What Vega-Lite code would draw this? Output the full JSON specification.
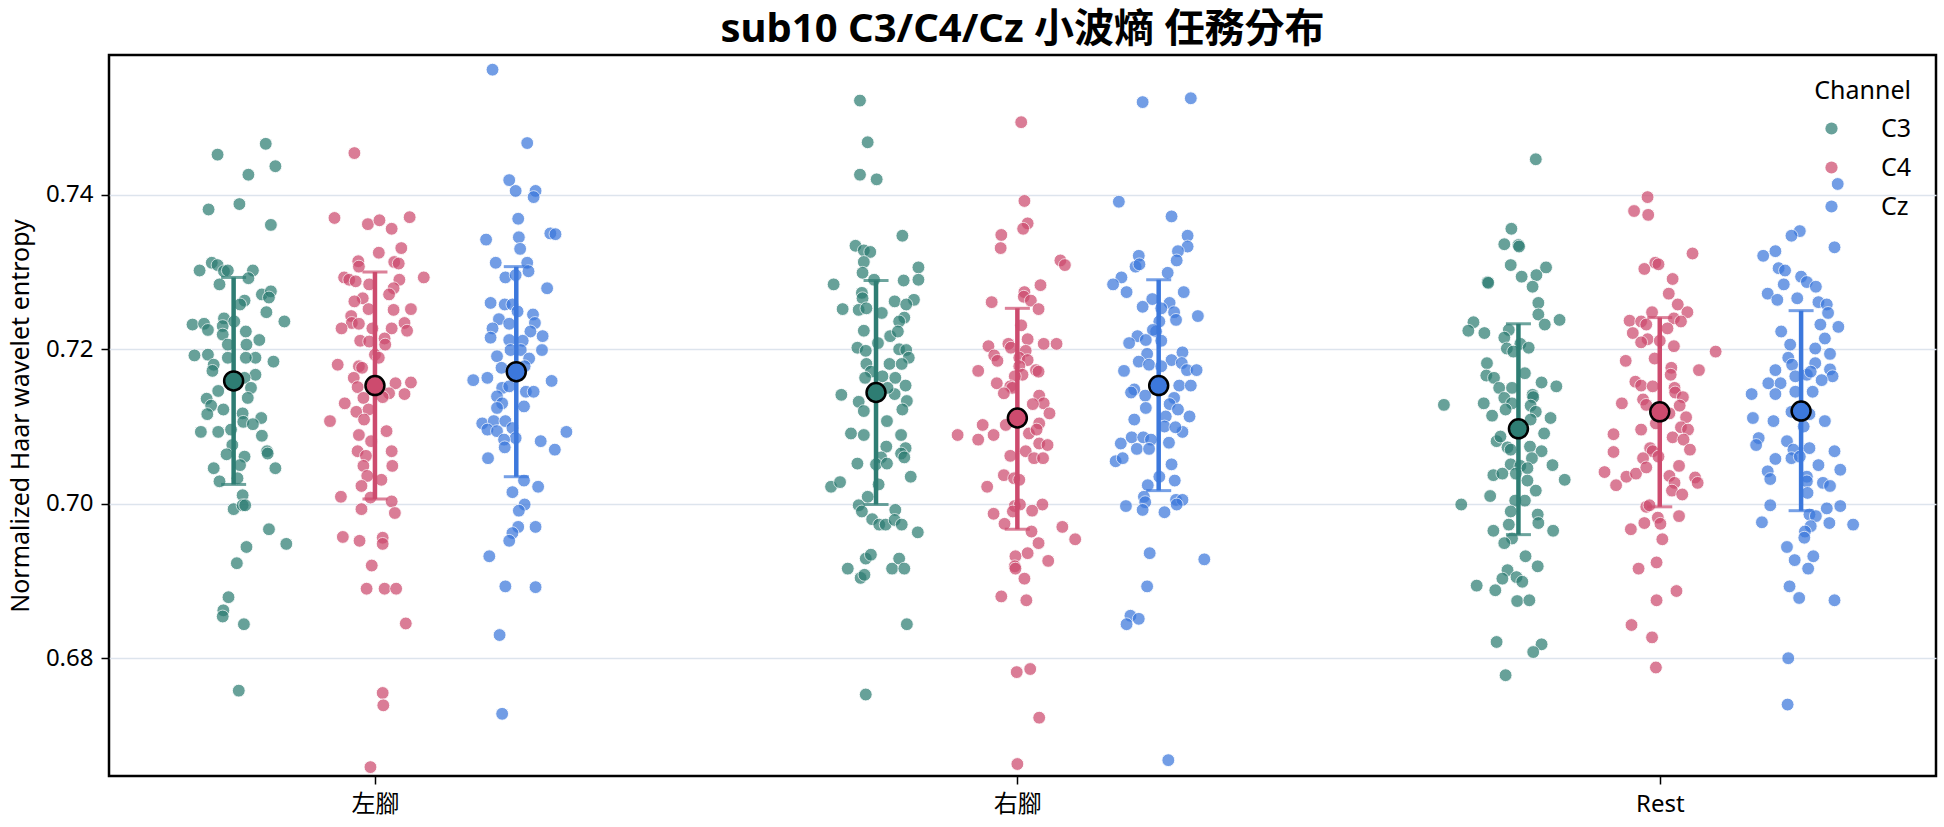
{
  "$schema": "https://vega.github.io/schema/vega-lite/v6.json",
  "width": 1827,
  "height": 721,
  "autosize": {"type": "none"},
  "padding": {"left": 109, "top": 55, "right": 8, "bottom": 51},
  "background": "white",
  "config": {
    "font": "Noto Sans, Noto Sans CJK TC, sans-serif",
    "view": {"stroke": "black", "strokeWidth": 2.5},
    "axis": {"labelColor": "black", "titleColor": "black", "tickColor": "black", "tickWidth": 1.5, "tickSize": 8, "labelFontSize": 24, "domain": false},
    "legend": {"titleFontSize": 25, "titleFontWeight": "normal", "titleColor": "black", "labelFontSize": 25, "labelColor": "black", "symbolSize": 150, "symbolType": "circle", "symbolOpacity": 0.72, "symbolStrokeWidth": 0, "rowPadding": 13, "labelOffset": 37, "titlePadding": 12, "symbolOffset": 16, "titleAnchor": "end"}
  },
  "title": {"text": "sub10 C3/C4/Cz 小波熵 任務分布", "fontSize": 40, "fontWeight": "bold", "anchor": "middle", "offset": 5, "color": "black", "font": "Noto Sans, Noto Sans CJK TC, sans-serif"},
  "datasets": {
    "summary": [
      {"t": "左腳", "c": "C3", "mean": 0.7159, "lo": 0.7025, "hi": 0.7293},
      {"t": "左腳", "c": "C4", "mean": 0.7153, "lo": 0.7006, "hi": 0.7300},
      {"t": "左腳", "c": "Cz", "mean": 0.7171, "lo": 0.7035, "hi": 0.7307},
      {"t": "右腳", "c": "C3", "mean": 0.7144, "lo": 0.6999, "hi": 0.7289},
      {"t": "右腳", "c": "C4", "mean": 0.7111, "lo": 0.6967, "hi": 0.7253},
      {"t": "右腳", "c": "Cz", "mean": 0.7153, "lo": 0.7017, "hi": 0.7290},
      {"t": "Rest", "c": "C3", "mean": 0.7097, "lo": 0.6960, "hi": 0.7233},
      {"t": "Rest", "c": "C4", "mean": 0.7119, "lo": 0.6996, "hi": 0.7241},
      {"t": "Rest", "c": "Cz", "mean": 0.7120, "lo": 0.6991, "hi": 0.7250}
    ],
    "pts": [
      {"t":"左腳","c":"C3","j":-0.025,"v":0.7452},{"t":"左腳","c":"C3","j":0.050,"v":0.7466},{"t":"左腳","c":"C3","j":0.065,"v":0.7437},{"t":"左腳","c":"C3","j":0.023,"v":0.7426},{"t":"左腳","c":"C3","j":-0.039,"v":0.7381},{"t":"左腳","c":"C3","j":0.009,"v":0.7388},{"t":"左腳","c":"C3","j":0.058,"v":0.7361},{"t":"左腳","c":"C3","j":-0.034,"v":0.7312},{"t":"左腳","c":"C3","j":-0.053,"v":0.7302},{"t":"左腳","c":"C3","j":-0.025,"v":0.7309},{"t":"左腳","c":"C3","j":-0.015,"v":0.7301},{"t":"左腳","c":"C3","j":-0.009,"v":0.7302},{"t":"左腳","c":"C3","j":0.030,"v":0.7302},{"t":"左腳","c":"C3","j":0.023,"v":0.7292},{"t":"左腳","c":"C3","j":-0.022,"v":0.7284},{"t":"左腳","c":"C3","j":0.044,"v":0.7271},{"t":"左腳","c":"C3","j":0.058,"v":0.7275},{"t":"左腳","c":"C3","j":0.055,"v":0.7267},{"t":"左腳","c":"C3","j":0.017,"v":0.7263},{"t":"左腳","c":"C3","j":0.010,"v":0.7258},{"t":"左腳","c":"C3","j":0.051,"v":0.7248},{"t":"左腳","c":"C3","j":0.079,"v":0.7236},{"t":"左腳","c":"C3","j":-0.064,"v":0.7232},{"t":"左腳","c":"C3","j":-0.046,"v":0.7233},{"t":"左腳","c":"C3","j":-0.040,"v":0.7225},{"t":"左腳","c":"C3","j":-0.015,"v":0.7240},{"t":"左腳","c":"C3","j":-0.017,"v":0.7230},{"t":"左腳","c":"C3","j":0.001,"v":0.7236},{"t":"左腳","c":"C3","j":0.019,"v":0.7223},{"t":"左腳","c":"C3","j":-0.017,"v":0.7219},{"t":"左腳","c":"C3","j":0.040,"v":0.7212},{"t":"左腳","c":"C3","j":0.020,"v":0.7206},{"t":"左腳","c":"C3","j":-0.009,"v":0.7206},{"t":"左腳","c":"C3","j":-0.061,"v":0.7192},{"t":"左腳","c":"C3","j":-0.040,"v":0.7193},{"t":"左腳","c":"C3","j":0.034,"v":0.7189},{"t":"左腳","c":"C3","j":0.019,"v":0.7189},{"t":"左腳","c":"C3","j":0.062,"v":0.7184},{"t":"左腳","c":"C3","j":-0.009,"v":0.7189},{"t":"左腳","c":"C3","j":-0.031,"v":0.7180},{"t":"左腳","c":"C3","j":-0.033,"v":0.7172},{"t":"左腳","c":"C3","j":0.034,"v":0.7167},{"t":"左腳","c":"C3","j":0.017,"v":0.7163},{"t":"左腳","c":"C3","j":0.027,"v":0.7150},{"t":"左腳","c":"C3","j":-0.024,"v":0.7146},{"t":"左腳","c":"C3","j":-0.042,"v":0.7136},{"t":"左腳","c":"C3","j":-0.035,"v":0.7127},{"t":"左腳","c":"C3","j":-0.016,"v":0.7122},{"t":"左腳","c":"C3","j":-0.041,"v":0.7116},{"t":"左腳","c":"C3","j":0.014,"v":0.7117},{"t":"左腳","c":"C3","j":0.022,"v":0.7137},{"t":"左腳","c":"C3","j":0.043,"v":0.7111},{"t":"左腳","c":"C3","j":0.015,"v":0.7106},{"t":"左腳","c":"C3","j":0.030,"v":0.7103},{"t":"左腳","c":"C3","j":-0.051,"v":0.7093},{"t":"左腳","c":"C3","j":-0.024,"v":0.7093},{"t":"左腳","c":"C3","j":-0.004,"v":0.7096},{"t":"左腳","c":"C3","j":0.044,"v":0.7088},{"t":"左腳","c":"C3","j":-0.002,"v":0.7076},{"t":"左腳","c":"C3","j":-0.011,"v":0.7064},{"t":"左腳","c":"C3","j":0.017,"v":0.7061},{"t":"左腳","c":"C3","j":0.052,"v":0.7068},{"t":"左腳","c":"C3","j":0.053,"v":0.7065},{"t":"左腳","c":"C3","j":-0.031,"v":0.7046},{"t":"左腳","c":"C3","j":0.010,"v":0.7050},{"t":"左腳","c":"C3","j":0.065,"v":0.7046},{"t":"左腳","c":"C3","j":-0.022,"v":0.7029},{"t":"左腳","c":"C3","j":0.006,"v":0.7033},{"t":"左腳","c":"C3","j":0.014,"v":0.7011},{"t":"左腳","c":"C3","j":0.000,"v":0.6993},{"t":"左腳","c":"C3","j":0.014,"v":0.6998},{"t":"左腳","c":"C3","j":0.018,"v":0.6998},{"t":"左腳","c":"C3","j":0.055,"v":0.6967},{"t":"左腳","c":"C3","j":0.020,"v":0.6944},{"t":"左腳","c":"C3","j":0.082,"v":0.6948},{"t":"左腳","c":"C3","j":0.005,"v":0.6923},{"t":"左腳","c":"C3","j":-0.008,"v":0.6879},{"t":"左腳","c":"C3","j":-0.016,"v":0.6862},{"t":"左腳","c":"C3","j":-0.017,"v":0.6854},{"t":"左腳","c":"C3","j":0.016,"v":0.6844},{"t":"左腳","c":"C3","j":0.008,"v":0.6758},
      {"t":"左腳","c":"C4","j":-0.032,"v":0.7454},{"t":"左腳","c":"C4","j":-0.063,"v":0.7370},{"t":"左腳","c":"C4","j":-0.011,"v":0.7362},{"t":"左腳","c":"C4","j":0.007,"v":0.7367},{"t":"左腳","c":"C4","j":0.026,"v":0.7356},{"t":"左腳","c":"C4","j":0.054,"v":0.7371},{"t":"左腳","c":"C4","j":0.041,"v":0.7331},{"t":"左腳","c":"C4","j":0.006,"v":0.7325},{"t":"左腳","c":"C4","j":-0.026,"v":0.7314},{"t":"左腳","c":"C4","j":-0.025,"v":0.7307},{"t":"左腳","c":"C4","j":0.030,"v":0.7313},{"t":"左腳","c":"C4","j":0.037,"v":0.7311},{"t":"左腳","c":"C4","j":-0.048,"v":0.7293},{"t":"左腳","c":"C4","j":-0.040,"v":0.7290},{"t":"左腳","c":"C4","j":-0.030,"v":0.7288},{"t":"左腳","c":"C4","j":-0.009,"v":0.7284},{"t":"左腳","c":"C4","j":0.038,"v":0.7290},{"t":"左腳","c":"C4","j":0.029,"v":0.7279},{"t":"左腳","c":"C4","j":0.076,"v":0.7293},{"t":"左腳","c":"C4","j":0.022,"v":0.7271},{"t":"左腳","c":"C4","j":-0.019,"v":0.7266},{"t":"左腳","c":"C4","j":-0.032,"v":0.7262},{"t":"左腳","c":"C4","j":-0.010,"v":0.7252},{"t":"左腳","c":"C4","j":0.029,"v":0.7251},{"t":"左腳","c":"C4","j":0.056,"v":0.7252},{"t":"左腳","c":"C4","j":-0.037,"v":0.7243},{"t":"左腳","c":"C4","j":-0.036,"v":0.7234},{"t":"左腳","c":"C4","j":-0.025,"v":0.7233},{"t":"左腳","c":"C4","j":-0.052,"v":0.7227},{"t":"左腳","c":"C4","j":-0.004,"v":0.7227},{"t":"左腳","c":"C4","j":0.026,"v":0.7227},{"t":"左腳","c":"C4","j":0.046,"v":0.7234},{"t":"左腳","c":"C4","j":0.050,"v":0.7224},{"t":"左腳","c":"C4","j":-0.023,"v":0.7211},{"t":"左腳","c":"C4","j":0.015,"v":0.7214},{"t":"左腳","c":"C4","j":-0.009,"v":0.7210},{"t":"左腳","c":"C4","j":0.016,"v":0.7206},{"t":"左腳","c":"C4","j":0.000,"v":0.7193},{"t":"左腳","c":"C4","j":0.006,"v":0.7189},{"t":"左腳","c":"C4","j":-0.058,"v":0.7180},{"t":"左腳","c":"C4","j":-0.025,"v":0.7178},{"t":"左腳","c":"C4","j":-0.020,"v":0.7176},{"t":"左腳","c":"C4","j":-0.033,"v":0.7163},{"t":"左腳","c":"C4","j":-0.027,"v":0.7151},{"t":"左腳","c":"C4","j":0.032,"v":0.7156},{"t":"左腳","c":"C4","j":0.056,"v":0.7157},{"t":"左腳","c":"C4","j":0.022,"v":0.7143},{"t":"左腳","c":"C4","j":0.046,"v":0.7142},{"t":"左腳","c":"C4","j":-0.018,"v":0.7137},{"t":"左腳","c":"C4","j":-0.047,"v":0.7130},{"t":"左腳","c":"C4","j":0.012,"v":0.7138},{"t":"左腳","c":"C4","j":-0.029,"v":0.7119},{"t":"左腳","c":"C4","j":-0.010,"v":0.7122},{"t":"左腳","c":"C4","j":-0.070,"v":0.7107},{"t":"左腳","c":"C4","j":-0.017,"v":0.7109},{"t":"左腳","c":"C4","j":0.018,"v":0.7094},{"t":"左腳","c":"C4","j":-0.025,"v":0.7089},{"t":"左腳","c":"C4","j":-0.006,"v":0.7081},{"t":"左腳","c":"C4","j":-0.027,"v":0.7068},{"t":"左腳","c":"C4","j":-0.014,"v":0.7062},{"t":"左腳","c":"C4","j":0.026,"v":0.7068},{"t":"左腳","c":"C4","j":0.027,"v":0.7049},{"t":"左腳","c":"C4","j":-0.018,"v":0.7049},{"t":"左腳","c":"C4","j":-0.012,"v":0.7036},{"t":"左腳","c":"C4","j":0.010,"v":0.7031},{"t":"左腳","c":"C4","j":-0.021,"v":0.7023},{"t":"左腳","c":"C4","j":-0.053,"v":0.7009},{"t":"左腳","c":"C4","j":-0.007,"v":0.7008},{"t":"左腳","c":"C4","j":0.026,"v":0.7003},{"t":"左腳","c":"C4","j":-0.021,"v":0.6993},{"t":"左腳","c":"C4","j":0.031,"v":0.6988},{"t":"左腳","c":"C4","j":-0.050,"v":0.6957},{"t":"左腳","c":"C4","j":-0.024,"v":0.6952},{"t":"左腳","c":"C4","j":0.012,"v":0.6956},{"t":"左腳","c":"C4","j":0.012,"v":0.6948},{"t":"左腳","c":"C4","j":-0.005,"v":0.6920},{"t":"左腳","c":"C4","j":-0.013,"v":0.6890},{"t":"左腳","c":"C4","j":0.015,"v":0.6890},{"t":"左腳","c":"C4","j":0.033,"v":0.6890},{"t":"左腳","c":"C4","j":0.048,"v":0.6845},{"t":"左腳","c":"C4","j":0.012,"v":0.6755},{"t":"左腳","c":"C4","j":0.013,"v":0.6739},{"t":"左腳","c":"C4","j":-0.007,"v":0.6659},
      {"t":"左腳","c":"Cz","j":-0.037,"v":0.7562},{"t":"左腳","c":"Cz","j":0.017,"v":0.7467},{"t":"左腳","c":"Cz","j":-0.011,"v":0.7419},{"t":"左腳","c":"Cz","j":-0.001,"v":0.7405},{"t":"左腳","c":"Cz","j":0.030,"v":0.7405},{"t":"左腳","c":"Cz","j":0.027,"v":0.7397},{"t":"左腳","c":"Cz","j":0.003,"v":0.7369},{"t":"左腳","c":"Cz","j":-0.047,"v":0.7342},{"t":"左腳","c":"Cz","j":0.004,"v":0.7345},{"t":"左腳","c":"Cz","j":0.006,"v":0.7330},{"t":"左腳","c":"Cz","j":0.053,"v":0.7350},{"t":"左腳","c":"Cz","j":0.061,"v":0.7349},{"t":"左腳","c":"Cz","j":-0.032,"v":0.7312},{"t":"左腳","c":"Cz","j":0.017,"v":0.7312},{"t":"左腳","c":"Cz","j":0.019,"v":0.7301},{"t":"左腳","c":"Cz","j":-0.017,"v":0.7293},{"t":"左腳","c":"Cz","j":-0.001,"v":0.7296},{"t":"左腳","c":"Cz","j":0.048,"v":0.7279},{"t":"左腳","c":"Cz","j":-0.040,"v":0.7260},{"t":"左腳","c":"Cz","j":-0.018,"v":0.7258},{"t":"左腳","c":"Cz","j":-0.006,"v":0.7258},{"t":"左腳","c":"Cz","j":0.002,"v":0.7249},{"t":"左腳","c":"Cz","j":0.026,"v":0.7245},{"t":"左腳","c":"Cz","j":-0.027,"v":0.7239},{"t":"左腳","c":"Cz","j":0.029,"v":0.7234},{"t":"左腳","c":"Cz","j":-0.037,"v":0.7227},{"t":"左腳","c":"Cz","j":-0.011,"v":0.7233},{"t":"左腳","c":"Cz","j":0.022,"v":0.7223},{"t":"左腳","c":"Cz","j":0.041,"v":0.7217},{"t":"左腳","c":"Cz","j":-0.040,"v":0.7215},{"t":"左腳","c":"Cz","j":-0.011,"v":0.7212},{"t":"左腳","c":"Cz","j":0.010,"v":0.7211},{"t":"左腳","c":"Cz","j":-0.009,"v":0.7199},{"t":"左腳","c":"Cz","j":0.007,"v":0.7199},{"t":"左腳","c":"Cz","j":0.040,"v":0.7199},{"t":"左腳","c":"Cz","j":-0.030,"v":0.7191},{"t":"左腳","c":"Cz","j":0.020,"v":0.7188},{"t":"左腳","c":"Cz","j":-0.023,"v":0.7176},{"t":"左腳","c":"Cz","j":-0.006,"v":0.7173},{"t":"左腳","c":"Cz","j":0.013,"v":0.7178},{"t":"左腳","c":"Cz","j":-0.067,"v":0.7160},{"t":"左腳","c":"Cz","j":-0.045,"v":0.7163},{"t":"左腳","c":"Cz","j":0.055,"v":0.7159},{"t":"左腳","c":"Cz","j":-0.022,"v":0.7150},{"t":"左腳","c":"Cz","j":-0.011,"v":0.7152},{"t":"左腳","c":"Cz","j":0.015,"v":0.7145},{"t":"左腳","c":"Cz","j":0.027,"v":0.7145},{"t":"左腳","c":"Cz","j":-0.030,"v":0.7139},{"t":"左腳","c":"Cz","j":0.012,"v":0.7126},{"t":"左腳","c":"Cz","j":-0.022,"v":0.7130},{"t":"左腳","c":"Cz","j":-0.030,"v":0.7124},{"t":"左腳","c":"Cz","j":-0.053,"v":0.7104},{"t":"左腳","c":"Cz","j":-0.035,"v":0.7107},{"t":"左腳","c":"Cz","j":-0.017,"v":0.7107},{"t":"左腳","c":"Cz","j":-0.045,"v":0.7096},{"t":"左腳","c":"Cz","j":-0.030,"v":0.7094},{"t":"左腳","c":"Cz","j":-0.006,"v":0.7098},{"t":"左腳","c":"Cz","j":-0.001,"v":0.7085},{"t":"左腳","c":"Cz","j":-0.019,"v":0.7083},{"t":"左腳","c":"Cz","j":-0.018,"v":0.7073},{"t":"左腳","c":"Cz","j":0.038,"v":0.7081},{"t":"左腳","c":"Cz","j":0.060,"v":0.7070},{"t":"左腳","c":"Cz","j":0.078,"v":0.7093},{"t":"左腳","c":"Cz","j":-0.044,"v":0.7059},{"t":"左腳","c":"Cz","j":0.012,"v":0.7030},{"t":"左腳","c":"Cz","j":0.034,"v":0.7022},{"t":"左腳","c":"Cz","j":-0.006,"v":0.7015},{"t":"左腳","c":"Cz","j":0.013,"v":0.6999},{"t":"左腳","c":"Cz","j":0.004,"v":0.6991},{"t":"左腳","c":"Cz","j":0.003,"v":0.6970},{"t":"左腳","c":"Cz","j":0.030,"v":0.6970},{"t":"左腳","c":"Cz","j":-0.006,"v":0.6962},{"t":"左腳","c":"Cz","j":-0.011,"v":0.6952},{"t":"左腳","c":"Cz","j":-0.042,"v":0.6932},{"t":"左腳","c":"Cz","j":-0.017,"v":0.6893},{"t":"左腳","c":"Cz","j":0.030,"v":0.6892},{"t":"左腳","c":"Cz","j":-0.026,"v":0.6830},{"t":"左腳","c":"Cz","j":-0.022,"v":0.6728},
      {"t":"右腳","c":"C3","j":-0.025,"v":0.7522},{"t":"右腳","c":"C3","j":-0.013,"v":0.7468},{"t":"右腳","c":"C3","j":-0.025,"v":0.7426},{"t":"右腳","c":"C3","j":0.001,"v":0.7420},{"t":"右腳","c":"C3","j":0.041,"v":0.7347},{"t":"右腳","c":"C3","j":-0.032,"v":0.7334},{"t":"右腳","c":"C3","j":-0.019,"v":0.7328},{"t":"右腳","c":"C3","j":-0.009,"v":0.7326},{"t":"右腳","c":"C3","j":-0.019,"v":0.7313},{"t":"右腳","c":"C3","j":0.066,"v":0.7306},{"t":"右腳","c":"C3","j":-0.021,"v":0.7299},{"t":"右腳","c":"C3","j":-0.066,"v":0.7284},{"t":"右腳","c":"C3","j":-0.003,"v":0.7290},{"t":"右腳","c":"C3","j":0.043,"v":0.7289},{"t":"右腳","c":"C3","j":0.066,"v":0.7290},{"t":"右腳","c":"C3","j":-0.022,"v":0.7273},{"t":"右腳","c":"C3","j":-0.021,"v":0.7266},{"t":"右腳","c":"C3","j":0.059,"v":0.7264},{"t":"右腳","c":"C3","j":0.029,"v":0.7262},{"t":"右腳","c":"C3","j":-0.052,"v":0.7252},{"t":"右腳","c":"C3","j":-0.027,"v":0.7251},{"t":"右腳","c":"C3","j":-0.015,"v":0.7253},{"t":"右腳","c":"C3","j":0.009,"v":0.7247},{"t":"右腳","c":"C3","j":0.047,"v":0.7258},{"t":"右腳","c":"C3","j":0.044,"v":0.7241},{"t":"右腳","c":"C3","j":0.036,"v":0.7236},{"t":"右腳","c":"C3","j":-0.019,"v":0.7224},{"t":"右腳","c":"C3","j":0.022,"v":0.7217},{"t":"右腳","c":"C3","j":0.034,"v":0.7223},{"t":"右腳","c":"C3","j":-0.029,"v":0.7202},{"t":"右腳","c":"C3","j":-0.016,"v":0.7198},{"t":"右腳","c":"C3","j":0.003,"v":0.7208},{"t":"右腳","c":"C3","j":0.036,"v":0.7200},{"t":"右腳","c":"C3","j":0.047,"v":0.7199},{"t":"右腳","c":"C3","j":0.051,"v":0.7189},{"t":"右腳","c":"C3","j":-0.015,"v":0.7181},{"t":"右腳","c":"C3","j":0.021,"v":0.7181},{"t":"右腳","c":"C3","j":0.040,"v":0.7181},{"t":"右腳","c":"C3","j":-0.008,"v":0.7171},{"t":"右腳","c":"C3","j":-0.017,"v":0.7163},{"t":"右腳","c":"C3","j":0.010,"v":0.7165},{"t":"右腳","c":"C3","j":0.030,"v":0.7163},{"t":"右腳","c":"C3","j":0.046,"v":0.7153},{"t":"右腳","c":"C3","j":-0.054,"v":0.7141},{"t":"右腳","c":"C3","j":-0.027,"v":0.7132},{"t":"右腳","c":"C3","j":0.029,"v":0.7142},{"t":"右腳","c":"C3","j":0.018,"v":0.7150},{"t":"右腳","c":"C3","j":0.048,"v":0.7133},{"t":"右腳","c":"C3","j":-0.019,"v":0.7120},{"t":"右腳","c":"C3","j":0.041,"v":0.7122},{"t":"右腳","c":"C3","j":0.017,"v":0.7107},{"t":"右腳","c":"C3","j":-0.039,"v":0.7091},{"t":"右腳","c":"C3","j":-0.019,"v":0.7089},{"t":"右腳","c":"C3","j":0.039,"v":0.7089},{"t":"右腳","c":"C3","j":0.016,"v":0.7074},{"t":"右腳","c":"C3","j":0.046,"v":0.7072},{"t":"右腳","c":"C3","j":0.039,"v":0.7065},{"t":"右腳","c":"C3","j":0.008,"v":0.7060},{"t":"右腳","c":"C3","j":0.044,"v":0.7060},{"t":"右腳","c":"C3","j":-0.029,"v":0.7052},{"t":"右腳","c":"C3","j":0.000,"v":0.7051},{"t":"右腳","c":"C3","j":0.017,"v":0.7052},{"t":"右腳","c":"C3","j":0.054,"v":0.7035},{"t":"右腳","c":"C3","j":-0.070,"v":0.7022},{"t":"右腳","c":"C3","j":-0.056,"v":0.7028},{"t":"右腳","c":"C3","j":0.004,"v":0.7025},{"t":"右腳","c":"C3","j":-0.013,"v":0.7009},{"t":"右腳","c":"C3","j":-0.027,"v":0.6998},{"t":"右腳","c":"C3","j":-0.022,"v":0.6990},{"t":"右腳","c":"C3","j":-0.006,"v":0.6980},{"t":"右腳","c":"C3","j":0.005,"v":0.6973},{"t":"右腳","c":"C3","j":0.015,"v":0.6973},{"t":"右腳","c":"C3","j":0.030,"v":0.6992},{"t":"右腳","c":"C3","j":0.029,"v":0.6979},{"t":"右腳","c":"C3","j":0.040,"v":0.6973},{"t":"右腳","c":"C3","j":0.065,"v":0.6963},{"t":"右腳","c":"C3","j":-0.016,"v":0.6929},{"t":"右腳","c":"C3","j":-0.008,"v":0.6934},{"t":"右腳","c":"C3","j":-0.044,"v":0.6916},{"t":"右腳","c":"C3","j":-0.024,"v":0.6904},{"t":"右腳","c":"C3","j":-0.018,"v":0.6908},{"t":"右腳","c":"C3","j":0.025,"v":0.6916},{"t":"右腳","c":"C3","j":0.036,"v":0.6929},{"t":"右腳","c":"C3","j":0.044,"v":0.6916},{"t":"右腳","c":"C3","j":0.048,"v":0.6844},{"t":"右腳","c":"C3","j":-0.016,"v":0.6753},
      {"t":"右腳","c":"C4","j":0.006,"v":0.7494},{"t":"右腳","c":"C4","j":0.011,"v":0.7392},{"t":"右腳","c":"C4","j":0.016,"v":0.7363},{"t":"右腳","c":"C4","j":0.009,"v":0.7356},{"t":"右腳","c":"C4","j":-0.025,"v":0.7348},{"t":"右腳","c":"C4","j":-0.026,"v":0.7331},{"t":"右腳","c":"C4","j":0.067,"v":0.7315},{"t":"右腳","c":"C4","j":0.074,"v":0.7309},{"t":"右腳","c":"C4","j":0.036,"v":0.7283},{"t":"右腳","c":"C4","j":0.011,"v":0.7274},{"t":"右腳","c":"C4","j":0.010,"v":0.7268},{"t":"右腳","c":"C4","j":0.021,"v":0.7263},{"t":"右腳","c":"C4","j":-0.040,"v":0.7261},{"t":"右腳","c":"C4","j":0.033,"v":0.7252},{"t":"右腳","c":"C4","j":0.006,"v":0.7231},{"t":"右腳","c":"C4","j":0.016,"v":0.7213},{"t":"右腳","c":"C4","j":-0.045,"v":0.7204},{"t":"右腳","c":"C4","j":-0.014,"v":0.7207},{"t":"右腳","c":"C4","j":-0.010,"v":0.7202},{"t":"右腳","c":"C4","j":0.041,"v":0.7207},{"t":"右腳","c":"C4","j":0.061,"v":0.7207},{"t":"右腳","c":"C4","j":0.013,"v":0.7198},{"t":"右腳","c":"C4","j":-0.036,"v":0.7192},{"t":"右腳","c":"C4","j":-0.031,"v":0.7185},{"t":"右腳","c":"C4","j":0.003,"v":0.7189},{"t":"右腳","c":"C4","j":0.016,"v":0.7186},{"t":"右腳","c":"C4","j":-0.061,"v":0.7172},{"t":"右腳","c":"C4","j":0.003,"v":0.7178},{"t":"右腳","c":"C4","j":0.029,"v":0.7173},{"t":"右腳","c":"C4","j":0.033,"v":0.7171},{"t":"右腳","c":"C4","j":0.008,"v":0.7167},{"t":"右腳","c":"C4","j":-0.004,"v":0.7165},{"t":"右腳","c":"C4","j":-0.032,"v":0.7156},{"t":"右腳","c":"C4","j":-0.011,"v":0.7152},{"t":"右腳","c":"C4","j":-0.008,"v":0.7150},{"t":"右腳","c":"C4","j":-0.021,"v":0.7143},{"t":"右腳","c":"C4","j":0.034,"v":0.7140},{"t":"右腳","c":"C4","j":0.041,"v":0.7130},{"t":"右腳","c":"C4","j":0.024,"v":0.7129},{"t":"右腳","c":"C4","j":0.050,"v":0.7117},{"t":"右腳","c":"C4","j":-0.054,"v":0.7102},{"t":"右腳","c":"C4","j":-0.018,"v":0.7102},{"t":"右腳","c":"C4","j":0.034,"v":0.7104},{"t":"右腳","c":"C4","j":-0.093,"v":0.7089},{"t":"右腳","c":"C4","j":-0.061,"v":0.7083},{"t":"右腳","c":"C4","j":-0.037,"v":0.7089},{"t":"右腳","c":"C4","j":0.018,"v":0.7091},{"t":"右腳","c":"C4","j":0.030,"v":0.7096},{"t":"右腳","c":"C4","j":0.034,"v":0.7078},{"t":"右腳","c":"C4","j":0.047,"v":0.7076},{"t":"右腳","c":"C4","j":0.013,"v":0.7068},{"t":"右腳","c":"C4","j":0.026,"v":0.7059},{"t":"右腳","c":"C4","j":0.040,"v":0.7059},{"t":"右腳","c":"C4","j":-0.011,"v":0.7062},{"t":"右腳","c":"C4","j":-0.021,"v":0.7037},{"t":"右腳","c":"C4","j":-0.005,"v":0.7033},{"t":"右腳","c":"C4","j":0.003,"v":0.7031},{"t":"右腳","c":"C4","j":-0.047,"v":0.7022},{"t":"右腳","c":"C4","j":-0.004,"v":0.6997},{"t":"右腳","c":"C4","j":0.004,"v":0.6999},{"t":"右腳","c":"C4","j":0.039,"v":0.6999},{"t":"右腳","c":"C4","j":0.023,"v":0.6991},{"t":"右腳","c":"C4","j":-0.007,"v":0.6990},{"t":"右腳","c":"C4","j":-0.037,"v":0.6987},{"t":"右腳","c":"C4","j":-0.020,"v":0.6974},{"t":"右腳","c":"C4","j":0.022,"v":0.6964},{"t":"右腳","c":"C4","j":0.070,"v":0.6970},{"t":"右腳","c":"C4","j":0.090,"v":0.6954},{"t":"右腳","c":"C4","j":0.033,"v":0.6949},{"t":"右腳","c":"C4","j":0.016,"v":0.6936},{"t":"右腳","c":"C4","j":-0.003,"v":0.6932},{"t":"右腳","c":"C4","j":-0.004,"v":0.6919},{"t":"右腳","c":"C4","j":-0.003,"v":0.6916},{"t":"右腳","c":"C4","j":0.048,"v":0.6926},{"t":"右腳","c":"C4","j":0.011,"v":0.6903},{"t":"右腳","c":"C4","j":-0.025,"v":0.6880},{"t":"右腳","c":"C4","j":0.014,"v":0.6875},{"t":"右腳","c":"C4","j":-0.001,"v":0.6782},{"t":"右腳","c":"C4","j":0.020,"v":0.6786},{"t":"右腳","c":"C4","j":0.034,"v":0.6723},{"t":"右腳","c":"C4","j":0.000,"v":0.6663},
      {"t":"右腳","c":"Cz","j":-0.025,"v":0.7520},{"t":"右腳","c":"Cz","j":0.050,"v":0.7525},{"t":"右腳","c":"Cz","j":-0.062,"v":0.7391},{"t":"右腳","c":"Cz","j":0.020,"v":0.7372},{"t":"右腳","c":"Cz","j":0.045,"v":0.7347},{"t":"右腳","c":"Cz","j":0.045,"v":0.7333},{"t":"右腳","c":"Cz","j":0.030,"v":0.7327},{"t":"右腳","c":"Cz","j":0.028,"v":0.7315},{"t":"右腳","c":"Cz","j":-0.031,"v":0.7321},{"t":"右腳","c":"Cz","j":-0.036,"v":0.7307},{"t":"右腳","c":"Cz","j":-0.030,"v":0.7310},{"t":"右腳","c":"Cz","j":0.014,"v":0.7299},{"t":"右腳","c":"Cz","j":-0.058,"v":0.7293},{"t":"右腳","c":"Cz","j":-0.071,"v":0.7284},{"t":"右腳","c":"Cz","j":-0.050,"v":0.7274},{"t":"右腳","c":"Cz","j":0.039,"v":0.7274},{"t":"右腳","c":"Cz","j":-0.010,"v":0.7265},{"t":"右腳","c":"Cz","j":-0.025,"v":0.7255},{"t":"右腳","c":"Cz","j":0.017,"v":0.7260},{"t":"右腳","c":"Cz","j":0.004,"v":0.7253},{"t":"右腳","c":"Cz","j":0.024,"v":0.7248},{"t":"右腳","c":"Cz","j":0.027,"v":0.7238},{"t":"右腳","c":"Cz","j":0.061,"v":0.7243},{"t":"右腳","c":"Cz","j":0.001,"v":0.7236},{"t":"右腳","c":"Cz","j":-0.004,"v":0.7223},{"t":"右腳","c":"Cz","j":-0.009,"v":0.7225},{"t":"右腳","c":"Cz","j":-0.033,"v":0.7217},{"t":"右腳","c":"Cz","j":-0.046,"v":0.7208},{"t":"右腳","c":"Cz","j":-0.020,"v":0.7212},{"t":"右腳","c":"Cz","j":0.004,"v":0.7211},{"t":"右腳","c":"Cz","j":0.037,"v":0.7196},{"t":"右腳","c":"Cz","j":-0.018,"v":0.7194},{"t":"右腳","c":"Cz","j":0.020,"v":0.7186},{"t":"右腳","c":"Cz","j":-0.031,"v":0.7184},{"t":"右腳","c":"Cz","j":-0.015,"v":0.7180},{"t":"右腳","c":"Cz","j":0.004,"v":0.7178},{"t":"右腳","c":"Cz","j":0.036,"v":0.7182},{"t":"右腳","c":"Cz","j":-0.054,"v":0.7172},{"t":"右腳","c":"Cz","j":0.044,"v":0.7173},{"t":"右腳","c":"Cz","j":0.059,"v":0.7173},{"t":"右腳","c":"Cz","j":-0.038,"v":0.7148},{"t":"右腳","c":"Cz","j":0.032,"v":0.7153},{"t":"右腳","c":"Cz","j":0.050,"v":0.7153},{"t":"右腳","c":"Cz","j":-0.043,"v":0.7144},{"t":"右腳","c":"Cz","j":-0.021,"v":0.7140},{"t":"右腳","c":"Cz","j":0.024,"v":0.7137},{"t":"右腳","c":"Cz","j":0.017,"v":0.7129},{"t":"右腳","c":"Cz","j":-0.020,"v":0.7124},{"t":"右腳","c":"Cz","j":0.030,"v":0.7122},{"t":"右腳","c":"Cz","j":-0.038,"v":0.7109},{"t":"右腳","c":"Cz","j":0.048,"v":0.7113},{"t":"右腳","c":"Cz","j":0.011,"v":0.7113},{"t":"右腳","c":"Cz","j":0.037,"v":0.7093},{"t":"右腳","c":"Cz","j":0.009,"v":0.7100},{"t":"右腳","c":"Cz","j":0.026,"v":0.7099},{"t":"右腳","c":"Cz","j":-0.059,"v":0.7078},{"t":"右腳","c":"Cz","j":-0.042,"v":0.7086},{"t":"右腳","c":"Cz","j":-0.024,"v":0.7086},{"t":"右腳","c":"Cz","j":-0.012,"v":0.7083},{"t":"右腳","c":"Cz","j":-0.034,"v":0.7071},{"t":"右腳","c":"Cz","j":-0.015,"v":0.7071},{"t":"右腳","c":"Cz","j":0.016,"v":0.7079},{"t":"右腳","c":"Cz","j":-0.067,"v":0.7055},{"t":"右腳","c":"Cz","j":-0.056,"v":0.7059},{"t":"右腳","c":"Cz","j":0.020,"v":0.7051},{"t":"右腳","c":"Cz","j":0.001,"v":0.7035},{"t":"右腳","c":"Cz","j":0.025,"v":0.7030},{"t":"右腳","c":"Cz","j":-0.017,"v":0.7024},{"t":"右腳","c":"Cz","j":-0.023,"v":0.7009},{"t":"右腳","c":"Cz","j":-0.021,"v":0.7002},{"t":"右腳","c":"Cz","j":-0.051,"v":0.6997},{"t":"右腳","c":"Cz","j":-0.025,"v":0.6992},{"t":"右腳","c":"Cz","j":0.009,"v":0.6989},{"t":"右腳","c":"Cz","j":0.027,"v":0.7005},{"t":"右腳","c":"Cz","j":0.037,"v":0.7005},{"t":"右腳","c":"Cz","j":0.028,"v":0.6999},{"t":"右腳","c":"Cz","j":-0.014,"v":0.6936},{"t":"右腳","c":"Cz","j":0.071,"v":0.6928},{"t":"右腳","c":"Cz","j":-0.018,"v":0.6893},{"t":"右腳","c":"Cz","j":-0.044,"v":0.6855},{"t":"右腳","c":"Cz","j":-0.050,"v":0.6844},{"t":"右腳","c":"Cz","j":-0.031,"v":0.6851},{"t":"右腳","c":"Cz","j":0.015,"v":0.6668},
      {"t":"Rest","c":"C3","j":0.027,"v":0.7446},{"t":"Rest","c":"C3","j":-0.011,"v":0.7356},{"t":"Rest","c":"C3","j":-0.022,"v":0.7336},{"t":"Rest","c":"C3","j":0.000,"v":0.7335},{"t":"Rest","c":"C3","j":0.001,"v":0.7333},{"t":"Rest","c":"C3","j":-0.012,"v":0.7309},{"t":"Rest","c":"C3","j":0.005,"v":0.7294},{"t":"Rest","c":"C3","j":0.028,"v":0.7296},{"t":"Rest","c":"C3","j":0.043,"v":0.7306},{"t":"Rest","c":"C3","j":0.022,"v":0.7281},{"t":"Rest","c":"C3","j":-0.048,"v":0.7287},{"t":"Rest","c":"C3","j":-0.047,"v":0.7286},{"t":"Rest","c":"C3","j":0.031,"v":0.7260},{"t":"Rest","c":"C3","j":0.031,"v":0.7245},{"t":"Rest","c":"C3","j":0.041,"v":0.7232},{"t":"Rest","c":"C3","j":0.064,"v":0.7238},{"t":"Rest","c":"C3","j":-0.070,"v":0.7235},{"t":"Rest","c":"C3","j":-0.078,"v":0.7224},{"t":"Rest","c":"C3","j":-0.053,"v":0.7221},{"t":"Rest","c":"C3","j":-0.015,"v":0.7225},{"t":"Rest","c":"C3","j":-0.022,"v":0.7215},{"t":"Rest","c":"C3","j":0.003,"v":0.7207},{"t":"Rest","c":"C3","j":0.016,"v":0.7202},{"t":"Rest","c":"C3","j":-0.018,"v":0.7201},{"t":"Rest","c":"C3","j":-0.008,"v":0.7197},{"t":"Rest","c":"C3","j":-0.049,"v":0.7182},{"t":"Rest","c":"C3","j":0.010,"v":0.7169},{"t":"Rest","c":"C3","j":-0.050,"v":0.7166},{"t":"Rest","c":"C3","j":-0.038,"v":0.7163},{"t":"Rest","c":"C3","j":0.036,"v":0.7157},{"t":"Rest","c":"C3","j":0.059,"v":0.7152},{"t":"Rest","c":"C3","j":-0.030,"v":0.7150},{"t":"Rest","c":"C3","j":-0.010,"v":0.7150},{"t":"Rest","c":"C3","j":0.022,"v":0.7141},{"t":"Rest","c":"C3","j":0.023,"v":0.7138},{"t":"Rest","c":"C3","j":-0.054,"v":0.7130},{"t":"Rest","c":"C3","j":-0.022,"v":0.7137},{"t":"Rest","c":"C3","j":-0.010,"v":0.7130},{"t":"Rest","c":"C3","j":0.019,"v":0.7127},{"t":"Rest","c":"C3","j":-0.116,"v":0.7128},{"t":"Rest","c":"C3","j":-0.020,"v":0.7122},{"t":"Rest","c":"C3","j":0.027,"v":0.7119},{"t":"Rest","c":"C3","j":-0.041,"v":0.7114},{"t":"Rest","c":"C3","j":0.050,"v":0.7111},{"t":"Rest","c":"C3","j":0.019,"v":0.7109},{"t":"Rest","c":"C3","j":0.040,"v":0.7091},{"t":"Rest","c":"C3","j":-0.034,"v":0.7081},{"t":"Rest","c":"C3","j":-0.028,"v":0.7087},{"t":"Rest","c":"C3","j":-0.017,"v":0.7073},{"t":"Rest","c":"C3","j":-0.012,"v":0.7070},{"t":"Rest","c":"C3","j":0.018,"v":0.7074},{"t":"Rest","c":"C3","j":0.036,"v":0.7068},{"t":"Rest","c":"C3","j":0.021,"v":0.7059},{"t":"Rest","c":"C3","j":-0.012,"v":0.7051},{"t":"Rest","c":"C3","j":0.003,"v":0.7049},{"t":"Rest","c":"C3","j":0.014,"v":0.7046},{"t":"Rest","c":"C3","j":0.053,"v":0.7050},{"t":"Rest","c":"C3","j":-0.039,"v":0.7037},{"t":"Rest","c":"C3","j":-0.025,"v":0.7039},{"t":"Rest","c":"C3","j":-0.004,"v":0.7039},{"t":"Rest","c":"C3","j":0.072,"v":0.7031},{"t":"Rest","c":"C3","j":0.014,"v":0.7030},{"t":"Rest","c":"C3","j":0.027,"v":0.7017},{"t":"Rest","c":"C3","j":-0.044,"v":0.7010},{"t":"Rest","c":"C3","j":-0.005,"v":0.7004},{"t":"Rest","c":"C3","j":0.010,"v":0.7004},{"t":"Rest","c":"C3","j":-0.089,"v":0.6999},{"t":"Rest","c":"C3","j":-0.012,"v":0.6990},{"t":"Rest","c":"C3","j":0.030,"v":0.6986},{"t":"Rest","c":"C3","j":0.031,"v":0.6975},{"t":"Rest","c":"C3","j":-0.015,"v":0.6973},{"t":"Rest","c":"C3","j":-0.039,"v":0.6965},{"t":"Rest","c":"C3","j":0.054,"v":0.6965},{"t":"Rest","c":"C3","j":-0.010,"v":0.6955},{"t":"Rest","c":"C3","j":-0.022,"v":0.6949},{"t":"Rest","c":"C3","j":0.011,"v":0.6932},{"t":"Rest","c":"C3","j":0.030,"v":0.6919},{"t":"Rest","c":"C3","j":-0.017,"v":0.6914},{"t":"Rest","c":"C3","j":-0.025,"v":0.6903},{"t":"Rest","c":"C3","j":-0.003,"v":0.6905},{"t":"Rest","c":"C3","j":0.006,"v":0.6899},{"t":"Rest","c":"C3","j":-0.065,"v":0.6894},{"t":"Rest","c":"C3","j":-0.036,"v":0.6888},{"t":"Rest","c":"C3","j":-0.002,"v":0.6874},{"t":"Rest","c":"C3","j":0.017,"v":0.6875},{"t":"Rest","c":"C3","j":-0.034,"v":0.6821},{"t":"Rest","c":"C3","j":0.036,"v":0.6818},{"t":"Rest","c":"C3","j":0.023,"v":0.6808},{"t":"Rest","c":"C3","j":-0.020,"v":0.6778},
      {"t":"Rest","c":"C4","j":-0.019,"v":0.7397},{"t":"Rest","c":"C4","j":-0.040,"v":0.7379},{"t":"Rest","c":"C4","j":-0.018,"v":0.7374},{"t":"Rest","c":"C4","j":0.051,"v":0.7324},{"t":"Rest","c":"C4","j":-0.024,"v":0.7304},{"t":"Rest","c":"C4","j":-0.007,"v":0.7312},{"t":"Rest","c":"C4","j":-0.002,"v":0.7310},{"t":"Rest","c":"C4","j":0.020,"v":0.7291},{"t":"Rest","c":"C4","j":0.014,"v":0.7272},{"t":"Rest","c":"C4","j":0.028,"v":0.7258},{"t":"Rest","c":"C4","j":0.043,"v":0.7248},{"t":"Rest","c":"C4","j":-0.012,"v":0.7248},{"t":"Rest","c":"C4","j":-0.047,"v":0.7237},{"t":"Rest","c":"C4","j":-0.029,"v":0.7236},{"t":"Rest","c":"C4","j":-0.021,"v":0.7232},{"t":"Rest","c":"C4","j":0.022,"v":0.7240},{"t":"Rest","c":"C4","j":0.033,"v":0.7236},{"t":"Rest","c":"C4","j":-0.042,"v":0.7221},{"t":"Rest","c":"C4","j":0.012,"v":0.7227},{"t":"Rest","c":"C4","j":-0.019,"v":0.7213},{"t":"Rest","c":"C4","j":-0.029,"v":0.7209},{"t":"Rest","c":"C4","j":0.000,"v":0.7211},{"t":"Rest","c":"C4","j":0.022,"v":0.7204},{"t":"Rest","c":"C4","j":0.087,"v":0.7197},{"t":"Rest","c":"C4","j":-0.053,"v":0.7185},{"t":"Rest","c":"C4","j":-0.008,"v":0.7188},{"t":"Rest","c":"C4","j":0.018,"v":0.7176},{"t":"Rest","c":"C4","j":0.061,"v":0.7173},{"t":"Rest","c":"C4","j":0.017,"v":0.7167},{"t":"Rest","c":"C4","j":-0.038,"v":0.7158},{"t":"Rest","c":"C4","j":-0.029,"v":0.7153},{"t":"Rest","c":"C4","j":-0.011,"v":0.7152},{"t":"Rest","c":"C4","j":0.023,"v":0.7150},{"t":"Rest","c":"C4","j":0.024,"v":0.7144},{"t":"Rest","c":"C4","j":0.036,"v":0.7138},{"t":"Rest","c":"C4","j":-0.059,"v":0.7130},{"t":"Rest","c":"C4","j":-0.026,"v":0.7135},{"t":"Rest","c":"C4","j":-0.021,"v":0.7128},{"t":"Rest","c":"C4","j":0.031,"v":0.7127},{"t":"Rest","c":"C4","j":0.041,"v":0.7112},{"t":"Rest","c":"C4","j":0.015,"v":0.7117},{"t":"Rest","c":"C4","j":-0.072,"v":0.7090},{"t":"Rest","c":"C4","j":-0.029,"v":0.7096},{"t":"Rest","c":"C4","j":-0.006,"v":0.7104},{"t":"Rest","c":"C4","j":0.033,"v":0.7099},{"t":"Rest","c":"C4","j":0.044,"v":0.7096},{"t":"Rest","c":"C4","j":0.020,"v":0.7086},{"t":"Rest","c":"C4","j":0.037,"v":0.7083},{"t":"Rest","c":"C4","j":-0.072,"v":0.7067},{"t":"Rest","c":"C4","j":-0.015,"v":0.7072},{"t":"Rest","c":"C4","j":-0.011,"v":0.7068},{"t":"Rest","c":"C4","j":0.047,"v":0.7070},{"t":"Rest","c":"C4","j":-0.026,"v":0.7059},{"t":"Rest","c":"C4","j":-0.002,"v":0.7061},{"t":"Rest","c":"C4","j":0.030,"v":0.7049},{"t":"Rest","c":"C4","j":-0.086,"v":0.7041},{"t":"Rest","c":"C4","j":-0.052,"v":0.7035},{"t":"Rest","c":"C4","j":-0.037,"v":0.7039},{"t":"Rest","c":"C4","j":-0.021,"v":0.7047},{"t":"Rest","c":"C4","j":0.015,"v":0.7036},{"t":"Rest","c":"C4","j":0.055,"v":0.7034},{"t":"Rest","c":"C4","j":0.059,"v":0.7027},{"t":"Rest","c":"C4","j":-0.068,"v":0.7024},{"t":"Rest","c":"C4","j":0.023,"v":0.7027},{"t":"Rest","c":"C4","j":0.019,"v":0.7017},{"t":"Rest","c":"C4","j":0.035,"v":0.7012},{"t":"Rest","c":"C4","j":-0.021,"v":0.6996},{"t":"Rest","c":"C4","j":-0.016,"v":0.6998},{"t":"Rest","c":"C4","j":0.030,"v":0.6984},{"t":"Rest","c":"C4","j":-0.003,"v":0.6982},{"t":"Rest","c":"C4","j":-0.045,"v":0.6967},{"t":"Rest","c":"C4","j":-0.024,"v":0.6975},{"t":"Rest","c":"C4","j":0.001,"v":0.6974},{"t":"Rest","c":"C4","j":0.004,"v":0.6954},{"t":"Rest","c":"C4","j":-0.033,"v":0.6916},{"t":"Rest","c":"C4","j":-0.005,"v":0.6924},{"t":"Rest","c":"C4","j":0.026,"v":0.6887},{"t":"Rest","c":"C4","j":-0.005,"v":0.6875},{"t":"Rest","c":"C4","j":-0.044,"v":0.6843},{"t":"Rest","c":"C4","j":-0.012,"v":0.6827},{"t":"Rest","c":"C4","j":-0.006,"v":0.6788},
      {"t":"Rest","c":"Cz","j":0.057,"v":0.7414},{"t":"Rest","c":"Cz","j":0.052,"v":0.7332},{"t":"Rest","c":"Cz","j":-0.002,"v":0.7353},{"t":"Rest","c":"Cz","j":-0.015,"v":0.7347},{"t":"Rest","c":"Cz","j":-0.059,"v":0.7321},{"t":"Rest","c":"Cz","j":-0.040,"v":0.7327},{"t":"Rest","c":"Cz","j":-0.035,"v":0.7305},{"t":"Rest","c":"Cz","j":-0.025,"v":0.7302},{"t":"Rest","c":"Cz","j":-0.027,"v":0.7284},{"t":"Rest","c":"Cz","j":0.000,"v":0.7294},{"t":"Rest","c":"Cz","j":0.009,"v":0.7287},{"t":"Rest","c":"Cz","j":0.023,"v":0.7281},{"t":"Rest","c":"Cz","j":-0.052,"v":0.7272},{"t":"Rest","c":"Cz","j":-0.037,"v":0.7264},{"t":"Rest","c":"Cz","j":-0.006,"v":0.7266},{"t":"Rest","c":"Cz","j":0.027,"v":0.7261},{"t":"Rest","c":"Cz","j":0.040,"v":0.7258},{"t":"Rest","c":"Cz","j":0.042,"v":0.7247},{"t":"Rest","c":"Cz","j":0.030,"v":0.7232},{"t":"Rest","c":"Cz","j":0.058,"v":0.7229},{"t":"Rest","c":"Cz","j":-0.031,"v":0.7223},{"t":"Rest","c":"Cz","j":0.037,"v":0.7214},{"t":"Rest","c":"Cz","j":-0.017,"v":0.7206},{"t":"Rest","c":"Cz","j":0.022,"v":0.7201},{"t":"Rest","c":"Cz","j":0.045,"v":0.7194},{"t":"Rest","c":"Cz","j":-0.020,"v":0.7189},{"t":"Rest","c":"Cz","j":-0.014,"v":0.7180},{"t":"Rest","c":"Cz","j":0.022,"v":0.7182},{"t":"Rest","c":"Cz","j":-0.040,"v":0.7173},{"t":"Rest","c":"Cz","j":0.045,"v":0.7174},{"t":"Rest","c":"Cz","j":-0.009,"v":0.7165},{"t":"Rest","c":"Cz","j":0.009,"v":0.7167},{"t":"Rest","c":"Cz","j":0.015,"v":0.7171},{"t":"Rest","c":"Cz","j":0.049,"v":0.7165},{"t":"Rest","c":"Cz","j":0.032,"v":0.7160},{"t":"Rest","c":"Cz","j":-0.051,"v":0.7156},{"t":"Rest","c":"Cz","j":-0.032,"v":0.7156},{"t":"Rest","c":"Cz","j":-0.077,"v":0.7142},{"t":"Rest","c":"Cz","j":-0.040,"v":0.7142},{"t":"Rest","c":"Cz","j":-0.009,"v":0.7145},{"t":"Rest","c":"Cz","j":0.018,"v":0.7145},{"t":"Rest","c":"Cz","j":-0.075,"v":0.7111},{"t":"Rest","c":"Cz","j":-0.043,"v":0.7107},{"t":"Rest","c":"Cz","j":-0.015,"v":0.7119},{"t":"Rest","c":"Cz","j":0.013,"v":0.7116},{"t":"Rest","c":"Cz","j":0.037,"v":0.7107},{"t":"Rest","c":"Cz","j":0.004,"v":0.7100},{"t":"Rest","c":"Cz","j":-0.066,"v":0.7085},{"t":"Rest","c":"Cz","j":-0.070,"v":0.7076},{"t":"Rest","c":"Cz","j":-0.022,"v":0.7081},{"t":"Rest","c":"Cz","j":-0.012,"v":0.7070},{"t":"Rest","c":"Cz","j":0.013,"v":0.7072},{"t":"Rest","c":"Cz","j":0.052,"v":0.7068},{"t":"Rest","c":"Cz","j":-0.040,"v":0.7058},{"t":"Rest","c":"Cz","j":-0.015,"v":0.7059},{"t":"Rest","c":"Cz","j":-0.002,"v":0.7061},{"t":"Rest","c":"Cz","j":0.027,"v":0.7050},{"t":"Rest","c":"Cz","j":0.061,"v":0.7044},{"t":"Rest","c":"Cz","j":-0.052,"v":0.7042},{"t":"Rest","c":"Cz","j":-0.048,"v":0.7032},{"t":"Rest","c":"Cz","j":0.009,"v":0.7035},{"t":"Rest","c":"Cz","j":0.009,"v":0.7029},{"t":"Rest","c":"Cz","j":0.034,"v":0.7027},{"t":"Rest","c":"Cz","j":0.045,"v":0.7023},{"t":"Rest","c":"Cz","j":0.010,"v":0.7014},{"t":"Rest","c":"Cz","j":-0.048,"v":0.6998},{"t":"Rest","c":"Cz","j":0.040,"v":0.6994},{"t":"Rest","c":"Cz","j":0.061,"v":0.6997},{"t":"Rest","c":"Cz","j":0.013,"v":0.6986},{"t":"Rest","c":"Cz","j":0.023,"v":0.6984},{"t":"Rest","c":"Cz","j":-0.061,"v":0.6976},{"t":"Rest","c":"Cz","j":0.044,"v":0.6975},{"t":"Rest","c":"Cz","j":0.081,"v":0.6973},{"t":"Rest","c":"Cz","j":0.015,"v":0.6971},{"t":"Rest","c":"Cz","j":0.006,"v":0.6964},{"t":"Rest","c":"Cz","j":0.005,"v":0.6956},{"t":"Rest","c":"Cz","j":-0.022,"v":0.6944},{"t":"Rest","c":"Cz","j":0.019,"v":0.6932},{"t":"Rest","c":"Cz","j":-0.010,"v":0.6927},{"t":"Rest","c":"Cz","j":0.011,"v":0.6916},{"t":"Rest","c":"Cz","j":-0.018,"v":0.6893},{"t":"Rest","c":"Cz","j":-0.003,"v":0.6878},{"t":"Rest","c":"Cz","j":0.052,"v":0.6875},{"t":"Rest","c":"Cz","j":-0.020,"v":0.6800},{"t":"Rest","c":"Cz","j":-0.021,"v":0.6740}
    ]
  },
  "layer": [
    {
      "data": {"name": "pts"},
      "transform": [
        {"calculate": "(datum.t === '左腳' ? 0 : datum.t === '右腳' ? 1 : 2) + (datum.c === 'C3' ? -0.22 : datum.c === 'C4' ? 0 : 0.22) + datum.j", "as": "x"}
      ],
      "mark": {"type": "circle", "size": 165, "opacity": 0.72, "stroke": "white", "strokeWidth": 0.9},
      "encoding": {
        "x": {
          "field": "x", "type": "quantitative",
          "scale": {"domain": [-0.414, 2.43], "nice": false, "zero": false},
          "axis": {"values": [0, 1, 2], "labelExpr": "datum.value === 0 ? '左腳' : datum.value === 1 ? '右腳' : 'Rest'", "title": null, "grid": false, "labelPadding": 8}
        },
        "y": {
          "field": "v", "type": "quantitative",
          "scale": {"domain": [0.66475, 0.7581], "nice": false, "zero": false},
          "axis": {"values": [0.68, 0.70, 0.72, 0.74], "format": ".2f", "title": "Normalized Haar wavelet entropy", "titleFontSize": 25, "titleFontWeight": "normal", "titlePadding": 12, "grid": true, "gridColor": "#dde4ed", "gridWidth": 1.5, "labelPadding": 8}
        },
        "color": {
          "field": "c", "type": "nominal",
          "scale": {"domain": ["C3", "C4", "Cz"], "range": ["#2e7d73", "#cd4b6e", "#3c78dc"]},
          "legend": {"title": "Channel", "orient": "top-right", "offset": 24}
        }
      }
    },
    {
      "data": {"name": "summary"},
      "transform": [
        {"calculate": "(datum.t === '左腳' ? 0 : datum.t === '右腳' ? 1 : 2) + (datum.c === 'C3' ? -0.22 : datum.c === 'C4' ? 0 : 0.22)", "as": "x"}
      ],
      "layer": [
        {
          "mark": {"type": "rule", "strokeWidth": 4.5},
          "encoding": {
            "x": {"field": "x", "type": "quantitative"},
            "y": {"field": "lo", "type": "quantitative"},
            "y2": {"field": "hi"},
            "color": {"field": "c", "type": "nominal", "legend": null}
          }
        },
        {
          "mark": {"type": "tick", "orient": "horizontal", "size": 25, "thickness": 3},
          "encoding": {
            "x": {"field": "x", "type": "quantitative"},
            "y": {"field": "lo", "type": "quantitative"},
            "color": {"field": "c", "type": "nominal", "legend": null}
          }
        },
        {
          "mark": {"type": "tick", "orient": "horizontal", "size": 25, "thickness": 3},
          "encoding": {
            "x": {"field": "x", "type": "quantitative"},
            "y": {"field": "hi", "type": "quantitative"},
            "color": {"field": "c", "type": "nominal", "legend": null}
          }
        },
        {
          "mark": {"type": "circle", "size": 360, "opacity": 1, "stroke": "black", "strokeWidth": 2.5},
          "encoding": {
            "x": {"field": "x", "type": "quantitative"},
            "y": {"field": "mean", "type": "quantitative"},
            "color": {"field": "c", "type": "nominal", "legend": null}
          }
        }
      ]
    }
  ],
  "resolve": {"legend": {"color": "independent"}}
}
